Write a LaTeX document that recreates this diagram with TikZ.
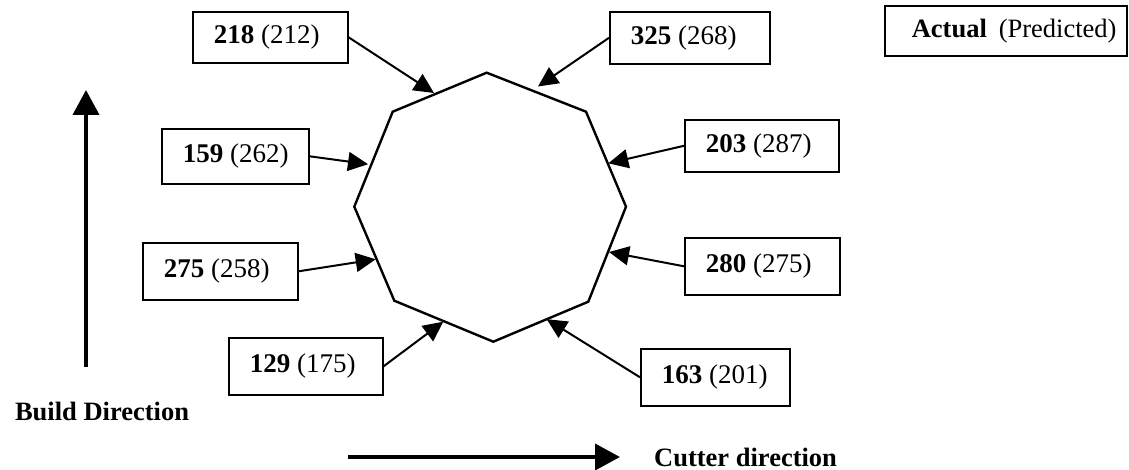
\documentclass[tikz,border=0pt]{standalone}
\usepackage{fontspec}
\setmainfont{Liberation Serif}
\usetikzlibrary{arrows.meta}
\newcommand{\boxtext}[2]{\makebox[#1][l]{#2}}
\begin{document}
\begin{tikzpicture}[x=1pt,y=-1pt,
  valbox/.style={draw, line width=1.6pt, inner xsep=21pt, inner ysep=0pt,
    anchor=north west, font=\fontsize{27}{30}\selectfont},
  ptr/.style={line width=2pt, -{Triangle[length=20pt,width=19pt]}},
  bigarrow/.style={line width=4pt, -{Triangle[length=25pt,width=26pt]}},
  oct/.style={line width=2.4pt, line join=miter},
  lbl/.style={inner sep=0pt, font=\fontsize{26.5}{30}\selectfont\bfseries}]
\useasboundingbox (0,0) rectangle (1129,470);
% boxes
\node[valbox, minimum height=51pt] (b218) at (192,11) {\boxtext{113pt}{\textbf{218} (212)}};
\node[valbox, minimum height=52pt] (b325) at (609,11) {\boxtext{118pt}{\textbf{325} (268)}};
\node[valbox, minimum height=52pt] (b203) at (684,119) {\boxtext{112pt}{\textbf{203} (287)}};
\node[valbox, minimum height=57pt] (b280) at (684,237) {\boxtext{113pt}{\textbf{280} (275)}};
\node[valbox, minimum height=57pt] (b163) at (640,348) {\boxtext{107pt}{\textbf{163} (201)}};
\node[valbox, minimum height=55pt] (b159) at (161,128) {\boxtext{105pt}{\textbf{159} (262)}};
\node[valbox, minimum height=57pt] (b275) at (142,242) {\boxtext{113pt}{\textbf{275} (258)}};
\node[valbox, minimum height=57pt] (b129) at (228,337) {\boxtext{112pt}{\textbf{129} (175)}};
\node[valbox, font=\fontsize{26.5}{30}\selectfont, inner xsep=27pt, minimum height=50pt] (legend) at (884,5) {\boxtext{188pt}{\textbf{Actual}\hspace{0.45em}(Predicted)}};
% octagon
\coordinate (vT) at (486.7,72.7);
\coordinate (vUR) at (586,111.7);
\coordinate (vR) at (626,206.7);
\coordinate (vLR) at (588.3,301.7);
\coordinate (vB) at (493.3,341.7);
\coordinate (vLL) at (394.3,300.7);
\coordinate (vL) at (354.3,206.7);
\coordinate (vUL) at (392.7,111.7);
\draw[oct] (vT) -- (vUR) -- (vR) -- (vLR) -- (vB) -- (vLL) -- (vL) -- (vUL) -- cycle;
% arrow tips on the octagon
\coordinate (t218) at (434,93);
\coordinate (t325) at (538,86.5);
\coordinate (t203) at (608.3,163.3);
\coordinate (t280) at (609,252);
\coordinate (t163) at (546.7,319.2);
\coordinate (t129) at (443.3,321.7);
\coordinate (t275) at (375.7,259.3);
\coordinate (t159) at (368,164.2);
\draw[ptr] (b218.east) -- (t218);
\draw[ptr] (b325.west) -- (t325);
\draw[ptr] (b203.west) -- (t203);
\draw[ptr] (b280.west) -- (t280);
\draw[ptr] (b163.west) -- (t163);
\draw[ptr] (b129.east) -- (t129);
\draw[ptr] (b275.east) -- (t275);
\draw[ptr] (b159.east) -- (t159);
% direction arrows
\coordinate (bs) at (86,367);
\coordinate (be) at (86,90);
\draw[bigarrow] (bs) -- (be);
\coordinate (cs) at (348,457);
\coordinate (ce) at (620,457);
\draw[bigarrow] (cs) -- (ce);
\node[lbl] (build) at (102,411) {Build Direction};
\node[lbl, anchor=west] (cutter) at (654,457) {Cutter direction};
\end{tikzpicture}
\end{document}
